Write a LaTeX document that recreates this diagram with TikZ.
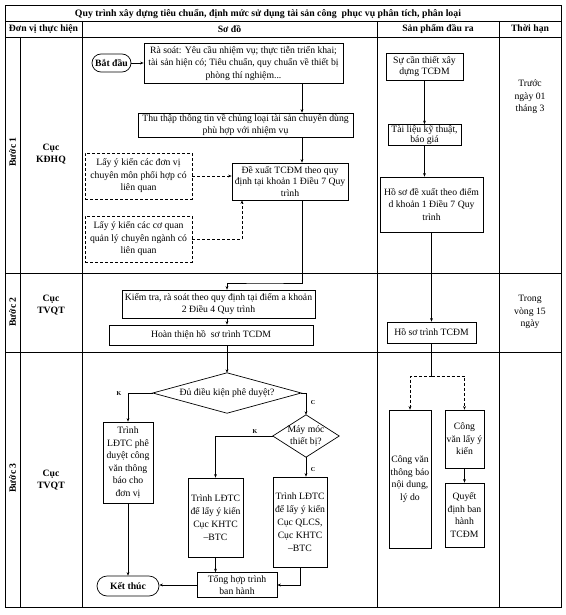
\documentclass[tikz,border=0pt]{standalone}
\usepackage{fontspec}
\setmainfont{Liberation Serif}
\usetikzlibrary{arrows.meta,calc}
\begin{document}
\begin{tikzpicture}[x=1pt,y=-1pt,
  every node/.style={font=\fontsize{9.7}{12.5}\selectfont, align=center, inner sep=0pt},
  bold/.style={font=\fontsize{9.7}{12.5}\selectfont\bfseries},
  box/.style={draw, line width=0.7pt},
  dbox/.style={draw, line width=0.7pt, dash pattern=on 3pt off 2pt},
  tl/.style={line width=0.7pt},
  ln/.style={line width=0.7pt},
  arr/.style={line width=0.7pt, -{Stealth[length=3.5pt,width=2.8pt]}},
  darr/.style={line width=0.7pt, dash pattern=on 3pt off 2pt, -{Stealth[length=3.5pt,width=2.8pt]}},
  lab/.style={font=\fontsize{6}{7}\selectfont\bfseries}
]
\useasboundingbox (0,0) rectangle (565,615);
% table
\draw[line width=1pt] (5,6) rectangle (561,607);
\draw[tl] (5,21) -- (561,21);
\draw[tl] (5,37) -- (561,37);
\draw[tl] (5,273) -- (561,273);
\draw[tl] (5,352) -- (561,352);
\draw[tl] (20,37) -- (20,607);
\draw[tl] (82,21) -- (82,607);
\draw[tl] (377,21) -- (377,607);
\draw[tl] (499,21) -- (499,607);
\node[bold, font=\fontsize{9.8}{12}\selectfont\bfseries] (title) at (268,14) {Quy trình xây dựng tiêu chuẩn, định mức sử dụng tài sản công\ \ phục vụ phân tích, phân loại};
\node[bold] (h1) at (43.5,29.5) {Đơn vị thực hiện};
\node[bold] (h2) at (229.5,29.5) {Sơ đồ};
\node[bold] (h3) at (438,29.5) {Sản phẩm đầu ra};
\node[bold] (h4) at (530,29.5) {Thời hạn};
\node[bold, rotate=90] (b1) at (12.5,152) {Bước 1};
\node[bold] (c1) at (51,154) {Cục\\KĐHQ};
\node[bold, rotate=90] (b2) at (12.5,312) {Bước 2};
\node[bold] (c2) at (51,305) {Cục\\TVQT};
\node[bold, rotate=90] (b3) at (12.5,478) {Bước 3};
\node[bold] (c3) at (51,480) {Cục\\TVQT};
\node (t1) at (530,97) {Trước\\ngày 01\\tháng 3};
\node (t2) at (530,312) {Trong\\vòng 15\\ngày};
% step 1 flow
\coordinate (vA) at (302,63);
\node[box, bold, rounded corners=9pt, minimum width=39, minimum height=18] (bd) at (111.5,63) {Bắt đầu};
\node[box, minimum width=199, minimum height=40] (rs) at (243.5,63) {Rà soát: Yêu cầu nhiệm vụ; thực tiễn triển khai;\\tài sản hiện có; Tiêu chuẩn, quy chuẩn về thiết bị\\phòng thí nghiệm...};
\node[box, minimum width=215, minimum height=24, font=\fontsize{9.7}{11.5}\selectfont] (tt) at (245.5,125) {Thu thập thông tin về chủng loại tài sản chuyên dùng\\phù hợp với nhiệm vụ};
\node[box, minimum width=116, minimum height=37, font=\fontsize{9.7}{11.7}\selectfont] (dx) at (290,181.5) {Đề xuất TCĐM theo quy\\định tại khoản 1 Điều 7 Quy\\trình};
\node[dbox, minimum width=107, minimum height=46] (dz1) at (138.5,176) {Lấy ý kiến các đơn vị\\chuyên môn phối hợp có\\liên quan};
\node[dbox, minimum width=107, minimum height=46] (dz2) at (138.5,239) {Lấy ý kiến các cơ quan\\quản lý chuyên ngành có\\liên quan};
\draw[arr] (bd) -- (rs);
\draw[arr] (vA |- rs.south) -- (vA |- tt.north);
\draw[arr] (vA |- tt.south) -- (vA |- dx.north);
\draw[darr] (dz1.east) -- (dz1.east -| dx.west);
\draw[darr] (dz2.east) -| ([xshift=-48pt]dx.south);
% step 2 flow
\node[box, minimum width=193, minimum height=28, font=\fontsize{9.7}{11.5}\selectfont] (kt) at (218.5,304) {Kiểm tra, rà soát theo quy định tại điểm a khoản\\2 Điều 4 Quy trình};
\node[box, minimum width=204, minimum height=20] (ht) at (211,335) {Hoàn thiện hồ\ \ sơ trình TCDM};
% step 3 flow
\node[minimum width=148, minimum height=40] (d1) at (227,393) {Đủ điều kiện phê duyệt?};
\draw[ln] (d1.north) -- (d1.east) -- (d1.south) -- (d1.west) -- cycle;
\coordinate (b1c) at (265,283);
\draw[arr] (vA |- dx.south) |- (b1c) -| (d1.north |- kt.north);
\draw[arr] (d1.north |- kt.south) -- (d1.north |- ht.north);
\draw[arr] (d1.north |- ht.south) -- (d1.north);
\node[minimum width=66, minimum height=42] (d2) at (306,436) {Máy móc\\thiết bị?};
\draw[ln] (d2.north) -- (d2.east) -- (d2.south) -- (d2.west) -- cycle;
\node[box, minimum width=50, minimum height=81] (l1) at (128,462.5) {Trình\\LĐTC phê\\duyệt công\\văn thông\\báo cho\\đơn vị};
\node[box, minimum width=55, minimum height=79, font=\fontsize{9.7}{13}\selectfont] (m1) at (215.5,517.5) {Trình LĐTC\\để lấy ý kiến\\Cục KHTC\\–BTC};
\node[box, minimum width=54, minimum height=90, font=\fontsize{9.7}{13}\selectfont] (r1) at (300,522) {Trình LĐTC\\để lấy ý kiến\\Cục QLCS,\\Cục KHTC\\–BTC};
\node[box, minimum width=80, minimum height=25, font=\fontsize{9.7}{11.5}\selectfont] (th) at (237,585) {Tổng hợp trình\\ban hành};
\node[box, bold, rounded corners=10pt, minimum width=62, minimum height=20] (kth) at (128,586) {Kết thúc};
\draw[arr] (d1.west) -| (l1.north);
\draw[arr] (d1.east) -| (d2.north);
\draw[arr] (d2.west) -| (m1.north);
\draw[arr] (d2.south) -- (d2.south |- r1.north);
\draw[arr] (m1.south) -- (m1.south |- th.north);
\draw[arr] (r1.south) |- (th.east);
\draw[arr] (th.west) -- (th.west -| kth.east);
\draw[arr] (l1.south) -- (kth.north);
\node[lab] (k1) at (119,394) {K};
\node[lab] (cc1) at (313,403) {C};
\node[lab] (k2) at (255,432) {K};
\node[lab] (cc2) at (313,470) {C};
% products column
\node[box, minimum width=77, minimum height=27, font=\fontsize{9.7}{11.5}\selectfont] (s1) at (424.5,66.5) {Sự cần thiết xây\\dựng TCĐM};
\node[box, minimum width=73, minimum height=21, font=\fontsize{9.7}{10}\selectfont] (s2) at (424.5,135) {Tài liệu kỹ thuật,\\báo giá};
\node[box, minimum width=103, minimum height=55] (s3) at (431.5,204.5) {Hồ sơ đề xuất theo điểm\\d khoản 1 Điều 7 Quy\\trình};
\node[box, minimum width=89, minimum height=21] (s4) at (431.5,332.5) {Hồ sơ trình TCĐM};
\node[box, minimum width=42, minimum height=138] (s5) at (410,479) {Công văn\\thông báo\\nội dung,\\lý do};
\node[box, minimum width=39, minimum height=58] (s6) at (464.5,439) {Công\\văn lấy ý\\kiến};
\node[box, minimum width=39, minimum height=64] (s7) at (464.5,515) {Quyết\\định ban\\hành\\TCĐM};
\coordinate (sp) at (431.5,376);
\draw[arr] (s1.south) -- (s1.south |- s2.north);
\draw[arr] (s2.south) -- (s2.south |- s3.north);
\draw[arr] (s3.south) -- (s4.north);
\draw[ln] (s4.south) -- (sp);
\draw[darr] (sp) -| (s5.north);
\draw[darr] (sp) -| (s6.north);
\draw[arr] (s6.south) -- (s7.north);
\end{tikzpicture}
\end{document}
